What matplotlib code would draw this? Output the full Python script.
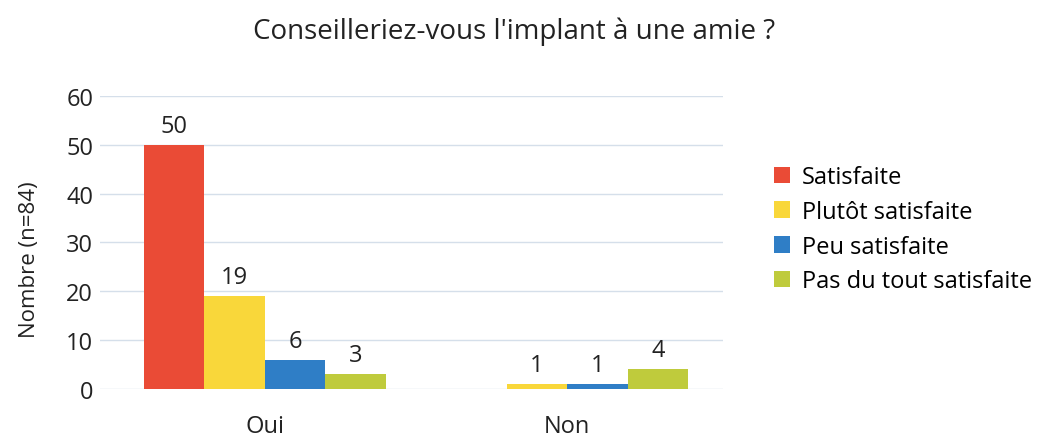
import numpy as np
from matplotlib import pyplot as plt

plt.rcParams['font.family'] = ['Open Sans', 'DejaVu Sans']

categories = ["Oui", "Non"]
series = ["Satisfaite", "Plutôt satisfaite", "Peu satisfaite", "Pas du tout satisfaite"]
satisfaite = [50, 0]
plutot = [19, 1]
peu = [6, 1]
pas_du_tout = [3, 4]
colors = ["#EA4B36", "#F9D73A", "#2F7EC6", "#BFCB3C"]

values = [satisfaite, plutot, peu, pas_du_tout]

fig = plt.figure(figsize=(10.43, 4.39), dpi=100)
ax = fig.add_axes([0.096, 0.112, 0.597, 0.667])

x = np.arange(len(categories))
width = 0.2
for i, (vals, label, color) in enumerate(zip(values, series, colors)):
    pos = x + (i - 1.5) * width
    bars = ax.bar(pos, vals, width, color=color, label=label, zorder=3)
    for b, v in zip(bars, vals):
        if v > 0:
            ax.annotate(str(v), (b.get_x() + b.get_width() / 2, v),
                        xytext=(0, 5), textcoords="offset points",
                        ha="center", va="bottom", fontsize=17, color="#222222")

ax.set_xlim(-0.545, 1.515)
ax.set_ylim(0, 60)
ax.set_yticks(range(0, 61, 10))
ax.set_xticks(x)
ax.set_xticklabels(categories)
ax.tick_params(length=0, labelsize=17, colors="#222222")
ax.tick_params(axis="x", pad=18)
ax.tick_params(axis="y", pad=5)
ax.grid(axis="y", color="#D5DFEA", linewidth=1, zorder=0)
for s in ax.spines.values():
    s.set_visible(False)

ax.set_ylabel("Nombre (n=84)", fontsize=16, color="#222222")
ax.yaxis.set_label_coords(-0.097, 0.443)
fig.suptitle("Conseilleriez-vous l'implant à une amie ?", x=0.493, y=0.96,
             fontsize=20, color="#222222")

ax.legend(loc="center left", bbox_to_anchor=(1.082, 0.545), frameon=False,
          borderaxespad=0, borderpad=0,
          fontsize=17, handlelength=0.7, handleheight=0.7, handletextpad=0.5,
          labelspacing=0.45)

fig.savefig("out.png", dpi=100)
